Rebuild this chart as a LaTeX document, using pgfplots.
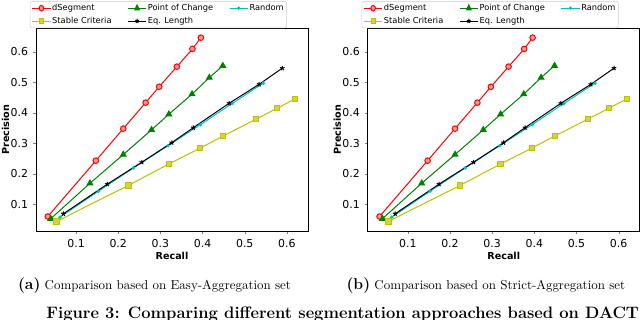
\documentclass[border=0pt]{standalone}
\usepackage{fontspec}
\setsansfont{DejaVu Sans}
\usepackage{pgfplots}
\usepackage{pgfplotstable}
\pgfplotsset{compat=1.18}

% recall precision
\pgfplotstableread{
r p
0.033 0.060
0.147 0.243
0.212 0.348
0.265 0.433
0.297 0.485
0.339 0.551
0.376 0.609
0.396 0.646
}\dseg
\pgfplotstableread{
r p
0.040 0.053
0.133 0.169
0.212 0.263
0.279 0.344
0.320 0.395
0.375 0.461
0.416 0.515
0.448 0.554
}\poc
\pgfplotstableread{
r p
0.062 0.058
0.153 0.143
0.236 0.219
0.318 0.292
0.395 0.361
0.470 0.430
0.544 0.497
}\rnd
\pgfplotstableread{
r p
0.054 0.044
0.224 0.162
0.320 0.232
0.394 0.284
0.449 0.324
0.527 0.379
0.577 0.415
0.619 0.445
}\stab
\pgfplotstableread{
r p
0.070 0.069
0.174 0.166
0.256 0.238
0.327 0.302
0.378 0.351
0.463 0.431
0.534 0.493
0.589 0.546
}\eql

\definecolor{mplc}{RGB}{0,191,191}
\definecolor{mply}{RGB}{191,191,0}
\definecolor{mplg}{RGB}{0,128,0}

\pgfplotsset{
  prplot/.style={
    scale only axis, width=204pt, height=152.25pt,
    xmin=0.005, xmax=0.65, ymin=0.0126, ymax=0.6776,
    xtick={0.1,0.2,0.3,0.4,0.5,0.6}, ytick={0.1,0.2,0.3,0.4,0.5,0.6},
    xticklabels={0.1,0.2,0.3,0.4,0.5,0.6}, yticklabels={0.1,0.2,0.3,0.4,0.5,0.6},
    tick align=outside, major tick length=2.4pt,
    xtick pos=bottom, ytick pos=left,
    ticklabel style={font=\sffamily\fontsize{8.2}{9}\selectfont},
    xlabel={\bfseries Recall}, ylabel={\bfseries Precision},
    label style={font=\sffamily\fontsize{7.2}{8}\selectfont},
    xlabel style={yshift=3pt},
    ylabel style={at={(axis description cs:-0.112,0.5)}, anchor=center},
    every axis plot/.append style={line width=0.75pt},
    legend columns=3,
    legend style={at={(0.45,1.133)}, anchor=north, font=\sffamily\fontsize{6.2}{7}\selectfont,
      draw=black!20, rounded corners=1.5pt, inner sep=1.2pt,
      nodes={inner sep=0.9pt}, row sep=1.6pt,
      /tikz/every even column/.append style={column sep=11pt},
      /tikz/every odd column/.append style={column sep=0pt}},
    legend image post style={xscale=0.8},
    legend cell align=left,
  },
}

\newcommand{\prseries}{%
  \addplot[red, mark=*, mark size=2.1pt, mark options={fill=red!40, draw=red}] table[x=r,y=p] {\dseg};
  \addlegendentry{dSegment}
  \addplot[mplg, mark=triangle*, mark size=2.4pt] table[x=r,y=p] {\poc};
  \addlegendentry{Point of Change}
  \addplot[mplc, mark=*, mark size=0.9pt] table[x=r,y=p] {\rnd};
  \addlegendentry{Random}
  \addplot[mply, mark=square*, mark size=2pt, mark options={fill=mply!70}] table[x=r,y=p] {\stab};
  \addlegendentry{Stable Criteria}
  \addplot[black, mark=star, mark size=1.8pt] table[x=r,y=p] {\eql};
  \addlegendentry{Eq. Length}
}

\begin{document}
\begin{tikzpicture}
\useasboundingbox (0,0) rectangle (480pt,-240pt);
\begin{axis}[prplot, at={(27pt,-173.25pt)}, anchor=south west]
\prseries
\end{axis}
\begin{axis}[prplot, at={(275.8pt,-173.25pt)}, anchor=south west]
\prseries
\end{axis}
\node[font=\fontsize{9.7}{11}\selectfont] at (115.9pt,-214.3pt) {{\fontsize{11.8}{13}\selectfont\bfseries (a)} Comparison based on Easy-Aggregation set};
\node[font=\fontsize{9.7}{11}\selectfont] at (364.4pt,-214.3pt) {{\fontsize{11.8}{13}\selectfont\bfseries (b)} Comparison based on Strict-Aggregation set};
\node[anchor=north, inner sep=0pt, font=\fontsize{12.4}{14}\selectfont\bfseries] at (257pt,-230pt) {Figure 3: Comparing different segmentation approaches based on DACT};
\end{tikzpicture}
\end{document}
